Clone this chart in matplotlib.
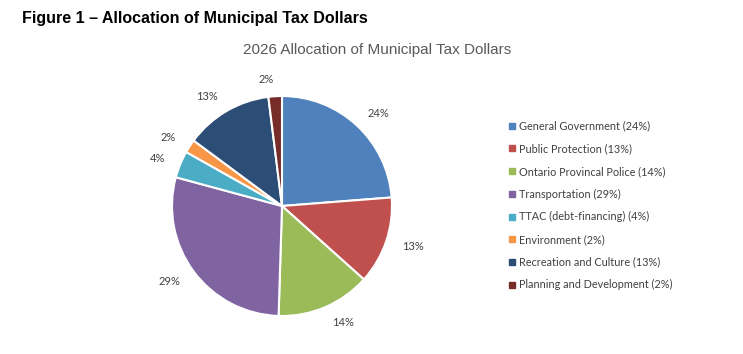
import matplotlib.pyplot as plt
from matplotlib.lines import Line2D

# data
categories = ['General Government', 'Public Protection', 'Ontario Provincal Police',
              'Transportation', 'TTAC (debt-financing)', 'Environment',
              'Recreation and Culture', 'Planning and Development']
shares = [24, 13, 14, 29, 4, 2, 13, 2]
colors = ['#4F81BD', '#C0504D', '#9BBB59', '#8064A2', '#4BACC6', '#F79646', '#2C4D75', '#772C2A']

W, H = 743, 354
fig = plt.figure(figsize=(W / 100, H / 100), dpi=100)

# heading
fig.text(22 / W, 1 - 18 / H, 'Figure 1 \u2013 Allocation of Municipal Tax Dollars',
         fontsize=11.5, fontweight='bold', family='Liberation Sans', va='center', ha='left')
fig.text(377 / W, 1 - 50 / H, '2026 Allocation of Municipal Tax Dollars',
         fontsize=11, color='#595959', family='Liberation Sans', va='center', ha='center')

# pie, centre ~ (282,206) px, radius ~110 px
cx, cy, r = 282, 206, 110
ax = fig.add_axes([(cx - r) / W, (H - cy - r) / H, 2 * r / W, 2 * r / H])
labels = ['%d%%' % v for v in shares]
wedges, texts = ax.pie(shares, colors=colors, startangle=90, counterclock=False,
                       labels=labels, labeldistance=1.15,
                       wedgeprops=dict(edgecolor='white', linewidth=1.5),
                       textprops=dict(fontsize=8, color='#404040', family='Lato'))
ax.set_xlim(-1, 1)
ax.set_ylim(-1, 1)
ax.set_aspect('equal')
ax.axis('off')

# legend
handles = [Line2D([], [], marker='s', linestyle='none', markersize=4,
                  markerfacecolor=c, markeredgecolor=c) for c in colors]
leg_labels = ['%s (%d%%)' % (n, v) for n, v in zip(categories, shares)]
fig.legend(handles, leg_labels, loc='upper left', bbox_to_anchor=(503 / W, 1 - 115 / H),
           frameon=False, handlelength=0.6, handletextpad=0.4, labelspacing=1.08,
           prop=dict(family='Lato', size=7.8), labelcolor='#404040', borderpad=0)

fig.savefig('out.png', dpi=100)
